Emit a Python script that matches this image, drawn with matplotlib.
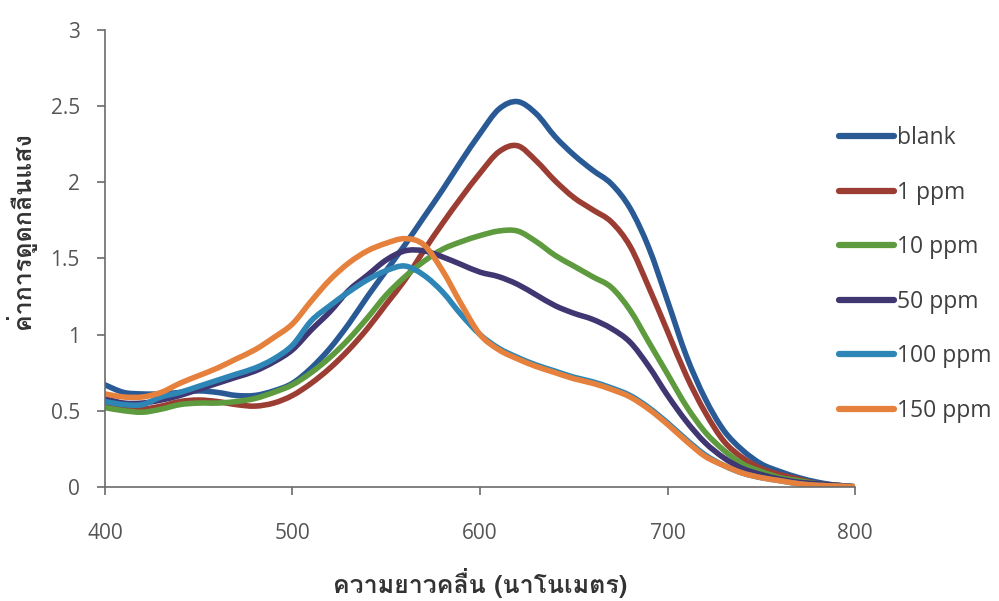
import numpy as np
import matplotlib
matplotlib.use("Agg")
import matplotlib.pyplot as plt
from matplotlib import font_manager
from matplotlib.ft2font import FT2Font
from matplotlib.path import Path
from matplotlib.patches import PathPatch
from matplotlib.lines import Line2D

wavelength = list(range(400, 801, 10))

blank = [0.67, 0.62, 0.61, 0.61, 0.62, 0.63, 0.62, 0.60, 0.60, 0.63, 0.68, 0.78, 0.91, 1.07, 1.25,
         1.42, 1.59, 1.77, 1.95, 2.14, 2.32, 2.48, 2.53, 2.45, 2.30, 2.18, 2.08, 1.99, 1.83, 1.57,
         1.22, 0.86, 0.58, 0.37, 0.24, 0.15, 0.10, 0.06, 0.03, 0.01, 0.0]
ppm1 = [0.55, 0.52, 0.51, 0.53, 0.56, 0.57, 0.56, 0.54, 0.53, 0.55, 0.60, 0.68, 0.78, 0.90, 1.04,
        1.20, 1.36, 1.55, 1.73, 1.90, 2.06, 2.20, 2.24, 2.14, 2.01, 1.90, 1.82, 1.74, 1.58, 1.31,
        1.02, 0.73, 0.49, 0.30, 0.19, 0.12, 0.08, 0.05, 0.02, 0.01, 0.0]
ppm10 = [0.52, 0.50, 0.49, 0.51, 0.54, 0.55, 0.55, 0.56, 0.58, 0.62, 0.67, 0.75, 0.85, 0.97, 1.11,
         1.26, 1.38, 1.48, 1.56, 1.61, 1.65, 1.68, 1.68, 1.61, 1.52, 1.45, 1.38, 1.31, 1.16, 0.95,
         0.74, 0.53, 0.36, 0.24, 0.15, 0.10, 0.06, 0.04, 0.02, 0.01, 0.0]
ppm50 = [0.58, 0.55, 0.55, 0.57, 0.60, 0.64, 0.68, 0.72, 0.76, 0.82, 0.90, 1.03, 1.15, 1.29, 1.39,
         1.49, 1.55, 1.55, 1.51, 1.46, 1.41, 1.38, 1.33, 1.26, 1.19, 1.14, 1.10, 1.04, 0.95, 0.79,
         0.60, 0.43, 0.29, 0.19, 0.12, 0.08, 0.05, 0.03, 0.02, 0.01, 0.0]
ppm100 = [0.56, 0.54, 0.54, 0.59, 0.62, 0.66, 0.70, 0.74, 0.78, 0.84, 0.93, 1.09, 1.19, 1.28, 1.36,
          1.42, 1.45, 1.39, 1.28, 1.13, 1.00, 0.91, 0.85, 0.80, 0.76, 0.72, 0.69, 0.65, 0.60, 0.52,
          0.42, 0.31, 0.21, 0.14, 0.09, 0.06, 0.04, 0.02, 0.01, 0.005, 0.0]
ppm150 = [0.61, 0.59, 0.59, 0.62, 0.68, 0.73, 0.78, 0.84, 0.90, 0.98, 1.07, 1.22, 1.36, 1.47, 1.55,
          1.60, 1.63, 1.59, 1.42, 1.20, 1.00, 0.90, 0.84, 0.79, 0.75, 0.71, 0.68, 0.64, 0.59, 0.51,
          0.41, 0.30, 0.20, 0.14, 0.09, 0.06, 0.04, 0.02, 0.01, 0.005, 0.0]

series_names = ["blank", "1 ppm", "10 ppm", "50 ppm", "100 ppm", "150 ppm"]
series_values = [blank, ppm1, ppm10, ppm50, ppm100, ppm150]
colors = ["#2a5a96", "#9c3d33", "#5e9a3e", "#3f3672", "#2e86b6", "#e5813c"]

x_ticks = [400, 500, 600, 700, 800]
y_ticks = [0, 0.5, 1, 1.5, 2, 2.5, 3]
y_tick_labels = ["0", "0.5", "1", "1.5", "2", "2.5", "3"]

x_label = "ความยาวคลื่น (นาโนเมตร)"
y_label = "ค่าการดูดกลืนแสง"

# find a font that has Thai glyphs
thai_family = None
for fe in font_manager.fontManager.ttflist:
    try:
        f = FT2Font(fe.fname)
        cmap = f.get_charmap()
        if 0x0E04 in cmap and 0x0E27 in cmap:
            thai_family = fe.name
            break
    except Exception:
        continue
families = ([thai_family] if thai_family else []) + ["DejaVu Sans"]

plt.rcParams['font.family'] = ["Open Sans", "DejaVu Sans"]


def smooth_path(xs, ys):
    """Excel-style smoothed line: cubic Bezier segments through the data points."""
    pts = np.column_stack([xs, ys]).astype(float)
    n = len(pts)
    verts = [pts[0]]
    codes = [Path.MOVETO]
    for i in range(n - 1):
        p0 = pts[i - 1] if i > 0 else pts[i]
        p1 = pts[i]
        p2 = pts[i + 1]
        p3 = pts[i + 2] if i + 2 < n else pts[i + 1]
        c1 = p1 + (p2 - p0) / 6.0
        c2 = p2 - (p3 - p1) / 6.0
        verts += [c1, c2, p2]
        codes += [Path.CURVE4] * 3
    return Path(verts, codes)


fig = plt.figure(figsize=(9.99, 6.01), dpi=100)
ax = fig.add_axes([0.105, 0.19, 0.751, 0.76])

handles = []
for name, vals, c in zip(series_names, series_values, colors):
    patch = PathPatch(smooth_path(wavelength, vals), facecolor='none', edgecolor=c,
                      lw=4, capstyle='round', joinstyle='round', transform=ax.transData)
    ax.add_patch(patch)
    handles.append(Line2D([], [], color=c, lw=4.5, solid_capstyle='round', label=name))

ax.set_xlim(400, 800)
ax.set_ylim(0, 3)
ax.set_xticks(x_ticks)
ax.set_yticks(y_ticks)
ax.set_yticklabels(y_tick_labels)
for s in ["top", "right"]:
    ax.spines[s].set_visible(False)
for s in ["left", "bottom"]:
    ax.spines[s].set_color("#6b6b6b")
    ax.spines[s].set_linewidth(1.2)
ax.tick_params(axis='both', colors="#6b6b6b", labelcolor="#555555", labelsize=15,
               length=6, width=1.2, direction='out')
ax.tick_params(axis='x', pad=20)
ax.tick_params(axis='y', pad=12)

ax.set_xlabel(x_label, family=families, fontsize=18, color="#333333", weight='semibold')
ax.xaxis.label.set_va('center')
ax.xaxis.set_label_coords(0.5, -0.21)
ax.set_ylabel(y_label, family=families, fontsize=18, color="#333333", weight='semibold')
ax.yaxis.label.set_va('center')
ax.yaxis.set_label_coords(-0.113, 0.562)

leg = ax.legend(handles=handles, loc='center left', bbox_to_anchor=(0.979, 0.465),
                frameon=False, fontsize=16.5, handlelength=2.4, handletextpad=0.1,
                labelspacing=1.33, borderaxespad=0, borderpad=0)
for t in leg.get_texts():
    t.set_color("#404040")

fig.savefig("out.png", dpi=100)
